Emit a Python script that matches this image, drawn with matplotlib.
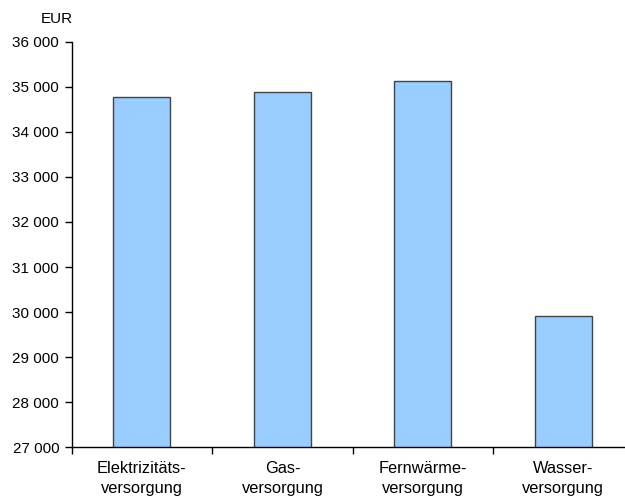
import matplotlib
matplotlib.use("Agg")
import matplotlib.pyplot as plt
from matplotlib.ticker import FuncFormatter, FixedLocator

categories = ["Elektrizitäts-\nversorgung", "Gas-\nversorgung", "Fernwärme-\nversorgung", "Wasser-\nversorgung"]
values = [34780, 34890, 35140, 29910]
yticks = list(range(27000, 36001, 1000))

plt.rcParams['font.family'] = ['Liberation Sans', 'DejaVu Sans']
plt.rcParams['font.size'] = 11

fig = plt.figure(figsize=(6.25, 4.99), dpi=100)
ax = fig.add_axes([0.1147, 0.104, 0.899, 0.812])

x = list(range(len(categories)))
ax.bar(x, values, width=0.405, bottom=0, color="#99CCFF", edgecolor="#444444", linewidth=1.0)

ax.set_ylim(27000, 36000)
ax.set_xlim(-0.5, 3.5)
ax.set_yticks(yticks)
ax.yaxis.set_major_formatter(FuncFormatter(lambda v, p: f"{int(v):,}".replace(",", " ")))

ax.set_xticks(x)
ax.set_xticklabels(categories, linespacing=1.45, fontsize=11.8)
ax.tick_params(axis='x', which='major', length=0, pad=10)
ax.xaxis.set_minor_locator(FixedLocator([-0.5, 0.5, 1.5, 2.5, 3.5]))
ax.tick_params(axis='x', which='minor', length=5, width=1, direction='out')
ax.tick_params(axis='y', length=5, width=1, direction='out', pad=4)

for s in ['top', 'right']:
    ax.spines[s].set_visible(False)
for s in ['left', 'bottom']:
    ax.spines[s].set_linewidth(1)
    ax.spines[s].set_color('black')

fig.text(0.066, 0.962, "EUR", ha='left', va='center', fontsize=11)

fig.savefig("out.png", dpi=100)
